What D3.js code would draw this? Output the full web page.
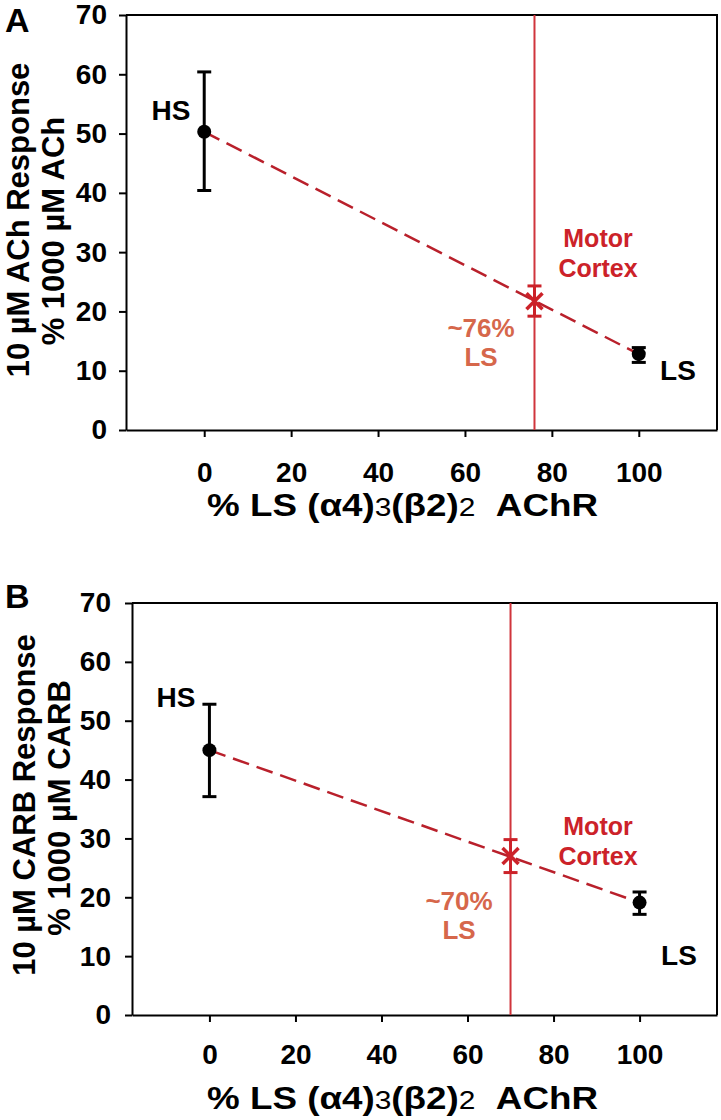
<!DOCTYPE html>
<html>
<head>
<meta charset="utf-8">
<script src="https://cdn.jsdelivr.net/npm/d3@7"></script>
<style>
  body { margin: 0; background: #fff; }
  svg { display: block; font-family: "Liberation Sans", Arial, sans-serif; font-weight: bold; }
</style>
</head>
<body>
<svg id="chart" width="721" height="1120"></svg>
<script>
// tick labels
const xTickValues = [0, 20, 40, 60, 80, 100];
const yTickValues = [0, 10, 20, 30, 40, 50, 60, 70];

// HS (0 %) and LS (100 %) points
const groupX = [0, 100];
const groupNames = ["HS", "LS"];

// panel A: 10 uM ACh
const meanA = [50.3, 12.8];
const lowA = [40.4, 11.4];
const highA = [60.4, 13.9];
const motorA = { x: 76, y: 21.7, lo: 19.2, hi: 24.3 };

// panel B: 10 uM CARB
const meanB = [45.0, 19.1];
const lowB = [37.1, 17.1];
const highB = [52.8, 20.9];
const motorB = { x: 70, y: 27.0, lo: 24.2, hi: 29.8 };

const red = "#cc2229";
const dashRed = "#b9202b";
const orange = "#d6674b";

const svg = d3.select("#chart");

function panel(opts) {
  const { left, top, right, bottom, letter, agonist, mean, low, high, motor, lbl } = opts;
  const g = svg.append("g");

  const x = d3.scaleLinear().domain([-18, 118]).range([left, right]);
  const y = d3.scaleLinear().domain([0, 70]).range([bottom, top]);

  // frame (top + right)
  g.append("path")
    .attr("d", `M${left},${top}H${right}V${bottom}`)
    .attr("fill", "none").attr("stroke", "#000").attr("stroke-width", 2);

  const yAxis = g.append("g")
    .attr("transform", `translate(${left},0)`)
    .call(d3.axisLeft(y).tickValues(yTickValues).tickSize(7).tickSizeOuter(0).tickPadding(lbl.yPad));
  const xAxis = g.append("g")
    .attr("transform", `translate(0,${bottom})`)
    .call(d3.axisBottom(x).tickValues(xTickValues).tickSize(7).tickSizeOuter(0).tickPadding(lbl.xPad));
  [yAxis, xAxis].forEach(a => {
    a.select(".domain").attr("stroke-width", 2);
    a.selectAll(".tick line").attr("stroke-width", 2);
    a.selectAll("text").attr("font-family", null).attr("fill", "#000");
  });
  yAxis.selectAll("text").attr("font-size", 28);
  xAxis.selectAll("text").attr("font-size", 28);

  // vertical motor cortex line
  g.append("line")
    .attr("x1", x(motor.x)).attr("x2", x(motor.x))
    .attr("y1", top).attr("y2", bottom)
    .attr("stroke", "#d0353c").attr("stroke-width", 2);

  // dashed regression line between HS and LS
  g.append("path")
    .datum(groupX.map((d, i) => [d, mean[i]]))
    .attr("d", d3.line().x(d => x(d[0])).y(d => y(d[1])))
    .attr("fill", "none").attr("stroke", dashRed).attr("stroke-width", 2.5)
    .attr("stroke-dasharray", "17,8");

  // error bars + points
  const pts = groupX.map((d, i) => ({ x: d, m: mean[i], lo: low[i], hi: high[i] }));
  const eb = g.selectAll(".eb").data(pts).enter().append("g");
  eb.append("line")
    .attr("x1", d => x(d.x)).attr("x2", d => x(d.x))
    .attr("y1", d => y(d.lo)).attr("y2", d => y(d.hi))
    .attr("stroke", "#000").attr("stroke-width", 3);
  ["lo", "hi"].forEach(k => {
    eb.append("line")
      .attr("x1", d => x(d.x) - 7).attr("x2", d => x(d.x) + 7)
      .attr("y1", d => y(d[k])).attr("y2", d => y(d[k]))
      .attr("stroke", "#000").attr("stroke-width", 3);
  });
  eb.append("circle")
    .attr("cx", d => x(d.x)).attr("cy", d => y(d.m)).attr("r", 7)
    .attr("fill", "#000");

  // motor cortex estimate (x marker with error bar)
  const mx = x(motor.x), my = y(motor.y);
  g.append("line").attr("x1", mx).attr("x2", mx).attr("y1", y(motor.lo)).attr("y2", y(motor.hi))
    .attr("stroke", red).attr("stroke-width", 3);
  [motor.lo, motor.hi].forEach(v => {
    g.append("line").attr("x1", mx - 7).attr("x2", mx + 7).attr("y1", y(v)).attr("y2", y(v))
      .attr("stroke", red).attr("stroke-width", 3);
  });
  g.append("path")
    .attr("d", `M${mx - 8},${my - 8}L${mx + 8},${my + 8}M${mx - 8},${my + 8}L${mx + 8},${my - 8}`)
    .attr("stroke", red).attr("stroke-width", 3.5);

  // panel letter
  g.append("text").attr("x", 5).attr("y", lbl.letterY).attr("font-size", 34).text(letter);

  // y title
  const yt = g.append("text")
    .attr("transform", `translate(${lbl.ytX},${lbl.ytY}) rotate(-90)`)
    .attr("text-anchor", "middle").attr("font-size", 31);
  yt.append("tspan").attr("x", 0).attr("y", 0).text(`10 µM ${agonist} Response`);
  yt.append("tspan").attr("x", -lbl.yt2Shift).attr("y", 35).text(`% 1000 µM ${agonist}`);

  // x title
  const xt = g.append("text")
    .attr("x", 207).attr("y", lbl.xtY).attr("font-size", 32)
    .attr("textLength", 391).attr("lengthAdjust", "spacingAndGlyphs");
  xt.append("tspan").text("% LS (α4)");
  xt.append("tspan").attr("font-size", 26).attr("font-weight", "normal").text("3");
  xt.append("tspan").text("(β2)");
  xt.append("tspan").attr("font-size", 26).attr("font-weight", "normal").text("2");
  xt.append("tspan").text("\u00a0\u00a0AChR");

  // point labels
  g.append("text").attr("x", lbl.hs[0]).attr("y", lbl.hs[1]).attr("text-anchor", "middle")
    .attr("font-size", 28).text(groupNames[0]);
  g.append("text").attr("x", lbl.ls[0]).attr("y", lbl.ls[1]).attr("text-anchor", "middle")
    .attr("font-size", 28).text(groupNames[1]);

  const mc = g.append("text").attr("text-anchor", "middle").attr("font-size", 25).attr("fill", red);
  mc.append("tspan").attr("x", lbl.mc[0]).attr("y", lbl.mc[1]).text("Motor");
  mc.append("tspan").attr("x", lbl.mc[0]).attr("y", lbl.mc[1] + 30).text("Cortex");

  const pc = g.append("text").attr("text-anchor", "middle").attr("font-size", 26).attr("fill", orange);
  pc.append("tspan").attr("x", lbl.pc[0]).attr("y", lbl.pc[1]).text(`~${motor.x}%`);
  pc.append("tspan").attr("x", lbl.pc[0]).attr("y", lbl.pc[1] + 29).text("LS");
}

panel({
  left: 126, top: 15, right: 717, bottom: 430,
  letter: "A", agonist: "ACh",
  mean: meanA, low: lowA, high: highA, motor: motorA,
  lbl: {
    yPad: 12, xPad: 25, letterY: 32,
    ytX: 29, ytY: 220, yt2Shift: 11,
    xtY: 516,
    hs: [171, 120], ls: [678, 380],
    mc: [598, 247], pc: [481, 337]
  }
});

panel({
  left: 132, top: 603, right: 717, bottom: 1015,
  letter: "B", agonist: "CARB",
  mean: meanB, low: lowB, high: highB, motor: motorB,
  lbl: {
    yPad: 14, xPad: 22, letterY: 608,
    ytX: 35, ytY: 805, yt2Shift: 3,
    xtY: 1109,
    hs: [176, 707], ls: [679, 965],
    mc: [598, 835], pc: [459, 910]
  }
});
</script>
</body>
</html>
